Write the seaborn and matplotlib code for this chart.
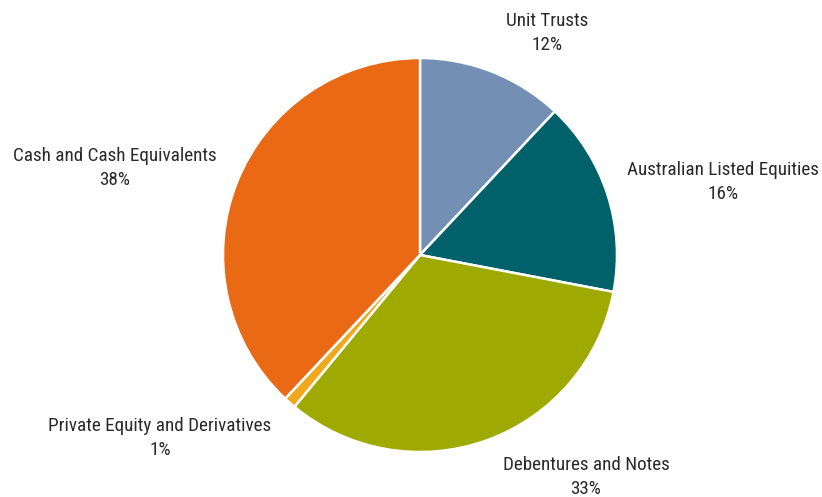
import matplotlib
matplotlib.use("Agg")
import matplotlib.pyplot as plt
import seaborn as sns

categories = ["Unit Trusts", "Australian Listed Equities", "Debentures and Notes",
              "Private Equity and Derivatives", "Cash and Cash Equivalents"]
shares = [12, 16, 33, 1, 38]
colors = ["#7390B4", "#00616A", "#9FAA00", "#F0A81C", "#E96914"]

sns.set_theme(style="white")
plt.rcParams["font.family"] = ["Roboto Condensed", "DejaVu Sans"]

W, H = 822, 497
fig = plt.figure(figsize=(W / 100, H / 100), dpi=100)
cx, cy, r = 420, 255, 197
ax = fig.add_axes([(cx - r) / W, (H - cy - r) / H, 2 * r / W, 2 * r / H])

ax.pie(shares, colors=colors, startangle=90, counterclock=False, radius=1,
       wedgeprops=dict(edgecolor="white", linewidth=1.8))
ax.set_xlim(-1, 1)
ax.set_ylim(-1, 1)
ax.set_aspect("equal")
ax.axis("off")

# label block centres in pixel space
label_px = [(547, 33), (723, 182), (586, 477), (160, 438), (115, 168)]
for name, val, (px, py) in zip(categories, shares, label_px):
    ax.text((px - cx) / r, (cy - py) / r, f"{name}\n{val}%", ha="center", va="center",
            fontsize=13.8, color="#2a2a2a", linespacing=1.38, clip_on=False)

fig.savefig("out.png", dpi=100)
